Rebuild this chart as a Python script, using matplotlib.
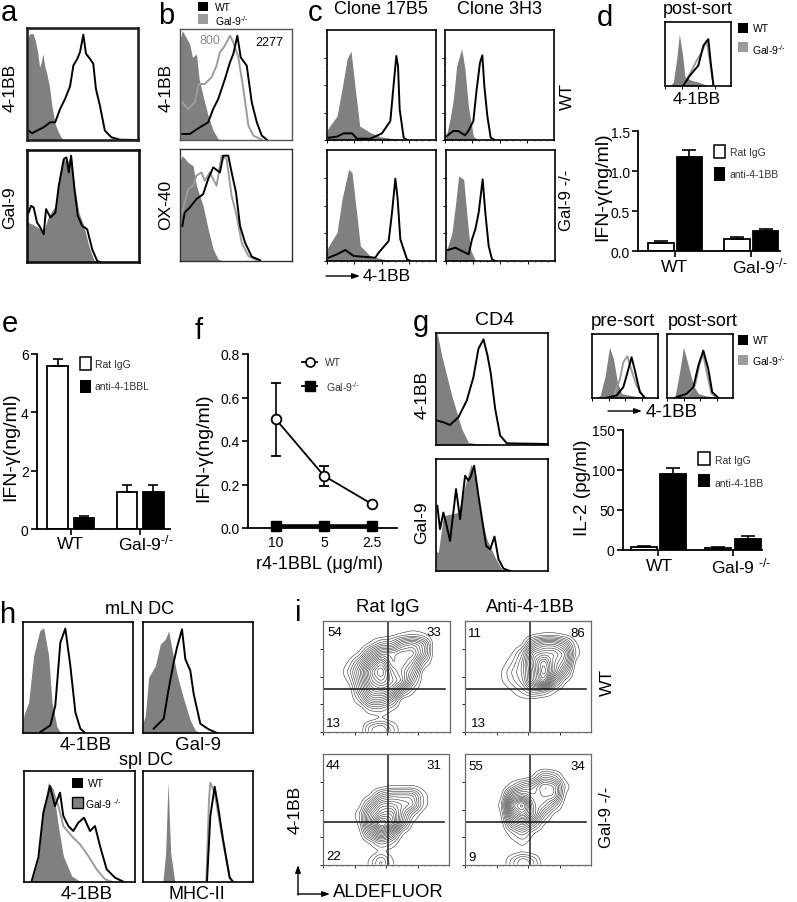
#!/usr/bin/env python3
"""Multi-panel 4-1BB / Gal-9 figure: flow histograms, bar charts, contour plots."""
import numpy as np
import matplotlib
matplotlib.use("Agg")
import matplotlib.pyplot as plt
from matplotlib.patches import Rectangle

W, H = 797, 903
plt.rcParams.update({
    "font.family": ["Liberation Sans", "DejaVu Sans"],
    "mathtext.fontset": "custom",
    "mathtext.rm": "Liberation Sans",
    "mathtext.default": "regular",
})

GREY_FILL = "#808080"
GREY_LINE = "#9c9c9c"
KO = r"Gal-9$^{\text{-/-}}$"
KO_SP = r"Gal-9 $^{\text{-/-}}$"

# ── histogram readings (channel, count), box size in channels per panel ──
A1_ISO_X = [0, 8, 18, 25, 32, 38, 42, 48, 53, 60, 68, 75, 85, 95, 105, 115]
A1_ISO_Y = [300, 318, 318, 298, 263, 218, 228, 258, 223, 198, 158, 103, 48, 23, 5, 0]
A1_WT_X = [5, 15, 30, 50, 70, 85, 100, 115, 130, 140, 147, 152, 160, 170, 178, 190, 200, 208, 220, 235, 255, 280, 335]
A1_WT_Y = [28, 20, 28, 38, 53, 53, 93, 123, 161, 223, 235, 243, 263, 315, 258, 243, 228, 153, 103, 28, 8, 1, 0]
A2_ISO_X = [0, 5, 25, 50, 65, 85, 95, 110, 120, 132, 142, 155, 170, 185, 200, 210]
A2_ISO_Y = [125, 118, 108, 93, 138, 168, 248, 308, 298, 318, 228, 148, 108, 48, 6, 0]
A2_WT_X = [5, 12, 20, 30, 40, 50, 57, 70, 85, 95, 110, 118, 125, 132, 142, 152, 165, 180, 195, 210, 220]
A2_WT_Y = [148, 168, 163, 118, 103, 83, 158, 133, 148, 228, 308, 313, 268, 318, 218, 138, 108, 98, 38, 3, 0]

B1_ISO_X = [0, 7, 29, 37, 49, 57, 71, 84, 99, 114, 120]
B1_ISO_Y = [300, 328, 288, 248, 258, 183, 123, 73, 28, 3, 0]
B1_KO_X = [7, 24, 44, 56, 74, 94, 109, 119, 134, 149, 159, 174, 189, 204, 219, 244]
B1_KO_Y = [113, 93, 113, 168, 168, 188, 223, 263, 283, 313, 293, 248, 153, 43, 13, 1]
B1_WT_X = [7, 29, 59, 84, 99, 114, 134, 149, 159, 171, 181, 199, 214, 229, 244, 259]
B1_WT_Y = [18, 18, 38, 53, 93, 123, 183, 233, 258, 313, 248, 223, 113, 53, 13, 1]
B2_ISO_X = [0, 7, 24, 39, 49, 69, 84, 99, 114, 129]
B2_ISO_Y = [300, 315, 295, 285, 225, 165, 95, 35, 5, 0]
B2_KO_X = [7, 24, 39, 49, 64, 74, 89, 109, 124, 139, 154, 169, 184, 204, 229]
B2_KO_Y = [145, 215, 225, 255, 265, 240, 265, 225, 315, 305, 195, 135, 55, 15, 2]
B2_WT_X = [7, 14, 29, 49, 69, 84, 99, 119, 129, 144, 154, 167, 179, 194, 214, 239]
B2_WT_Y = [105, 145, 160, 185, 200, 245, 280, 265, 315, 315, 265, 205, 105, 55, 13, 2]

C1_ISO_X = [0, 5, 30, 45, 60, 72, 85, 98, 130, 160, 200, 230]
C1_ISO_Y = [30, 37, 72, 152, 242, 267, 152, 42, 22, 10, 4, 0]
C1_WT_X = [5, 30, 50, 75, 90, 130, 165, 190, 200, 208, 213, 218, 230, 240]
C1_WT_Y = [7, 10, 20, 20, 4, 4, 20, 57, 167, 252, 222, 92, 7, 0]
C2_ISO_X = [0, 5, 15, 25, 35, 50, 60, 70, 85, 95]
C2_ISO_Y = [10, 17, 62, 122, 222, 274, 212, 102, 12, 2]
C2_WT_X = [5, 25, 40, 60, 70, 85, 95, 105, 112, 118, 127, 137, 150]
C2_WT_Y = [12, 27, 27, 14, 27, 57, 152, 232, 254, 162, 72, 7, 0]
C3_ISO_X = [0, 5, 30, 45, 65, 75, 90, 100, 130, 170, 200]
C3_ISO_Y = [35, 45, 85, 185, 275, 265, 135, 45, 15, 5, 0]
C3_WT_X = [5, 30, 55, 80, 145, 155, 185, 195, 205, 212, 220, 240, 250]
C3_WT_Y = [10, 20, 33, 15, 10, 25, 60, 145, 247, 185, 65, 5, 0]
C4_ISO_X = [0, 6, 18, 28, 38, 53, 63, 73, 88]
C4_ISO_Y = [30, 45, 85, 165, 255, 245, 135, 35, 2]
C4_WT_X = [6, 28, 48, 68, 78, 88, 98, 110, 118, 128, 138, 148]
C4_WT_Y = [33, 40, 30, 20, 65, 95, 145, 245, 145, 45, 5, 0]

D_ISO_X = [15, 25, 35, 43, 53, 60, 80, 100, 120, 130]
D_ISO_Y = [0, 12, 82, 157, 92, 27, 17, 12, 4, 0]
D_KO_X = [55, 75, 95, 110, 125, 137, 145]
D_KO_Y = [4, 37, 77, 102, 137, 62, 7]
D_WT_X = [55, 75, 100, 115, 122, 130, 137, 145]
D_WT_Y = [2, 32, 62, 122, 132, 142, 72, 4]

G1_ISO_X = [0, 4, 17, 32, 47, 62, 77, 97, 127, 152, 175]
G1_ISO_Y = [335, 333, 268, 208, 148, 98, 48, 8, 3, 2, 0]
G1_WT_X = [4, 22, 42, 67, 92, 112, 127, 142, 154, 164, 177, 192, 212, 335]
G1_WT_Y = [73, 68, 60, 83, 133, 203, 288, 316, 268, 213, 108, 28, 5, 3]
G2_ISO_X = [0, 7, 22, 42, 67, 87, 105, 117, 132, 152, 177, 197, 205]
G2_ISO_Y = [60, 55, 165, 170, 175, 255, 320, 275, 175, 95, 40, 5, 0]
G2_WT_X = [4, 12, 22, 32, 42, 60, 72, 87, 97, 105, 114, 127, 137, 150, 162, 175, 187, 202, 222]
G2_WT_Y = [195, 125, 175, 135, 90, 245, 155, 285, 270, 285, 315, 225, 160, 75, 65, 103, 35, 7, 0]

PRE_ISO_X = [15, 25, 40, 53, 65, 77, 90, 115, 145, 160]
PRE_ISO_Y = [0, 8, 68, 153, 118, 48, 13, 8, 3, 0]
PRE_KO_X = [65, 85, 95, 107, 120, 135, 155]
PRE_KO_Y = [3, 58, 108, 126, 83, 38, 6]
PRE_WT_X = [45, 75, 95, 105, 120, 130, 145, 160]
PRE_WT_Y = [1, 8, 33, 68, 123, 83, 18, 1]
POST_ISO_X = [15, 25, 38, 50, 62, 80, 95, 120, 160, 175]
POST_ISO_Y = [0, 8, 78, 153, 108, 38, 13, 6, 2, 0]
POST_KO_X = [60, 85, 100, 110, 120, 135, 150]
POST_KO_Y = [3, 38, 108, 133, 78, 13, 2]
POST_WT_X = [30, 60, 80, 95, 110, 125, 137, 155]
POST_WT_Y = [3, 13, 33, 98, 143, 88, 18, 1]

H1_ISO_X = [0, 4, 17, 32, 50, 62, 77, 87, 102, 112, 120]
H1_ISO_Y = [40, 58, 93, 233, 308, 318, 233, 93, 18, 3, 0]
H1_WT_X = [52, 82, 97, 112, 127, 142, 157, 172, 187]
H1_WT_Y = [3, 23, 83, 273, 315, 203, 63, 13, 0]
H2_ISO_X = [0, 7, 17, 37, 52, 67, 77, 87, 102, 122, 142, 157, 172]
H2_ISO_Y = [30, 53, 168, 203, 268, 283, 308, 253, 178, 103, 38, 8, 1]
H2_WT_X = [32, 62, 77, 92, 102, 117, 127, 142, 152, 172, 197, 222]
H2_WT_Y = [13, 43, 133, 213, 258, 313, 223, 188, 118, 28, 11, 0]
H3_ISO_X = [23, 43, 58, 73, 88, 103, 118, 143, 168]
H3_ISO_Y = [3, 68, 208, 298, 278, 168, 78, 18, 2]
H3_KO_X = [88, 103, 118, 143, 168, 193, 218, 243, 263]
H3_KO_Y = [270, 228, 168, 138, 113, 78, 38, 8, 1]
H3_WT_X = [23, 43, 58, 78, 93, 108, 118, 133, 148, 163, 180, 198, 213, 228, 248, 273, 298]
H3_WT_Y = [3, 73, 208, 288, 228, 268, 198, 168, 153, 178, 193, 153, 168, 108, 38, 13, 1]
H4_ISO_X = [60, 68, 75, 83, 95]
H4_ISO_Y = [3, 88, 300, 88, 3]
H4_KO_X = [190, 198, 202, 215, 235, 260, 270]
H4_KO_Y = [3, 248, 298, 268, 148, 13, 1]
H4_WT_X = [192, 202, 215, 225, 240, 260, 270]
H4_WT_Y = [1, 198, 286, 228, 128, 13, 1]

# ── bar charts ──
D_RAT = [0.10, 0.15]
D_RAT_ERR = [0.02, 0.02]
D_ANTI = [1.18, 0.25]
D_ANTI_ERR = [0.08, 0.03]
E_RAT = [5.6, 1.28]
E_RAT_ERR = [0.22, 0.24]
E_ANTI = [0.38, 1.27]
E_ANTI_ERR = [0.07, 0.23]
G_RAT = [4, 3]
G_RAT_ERR = [1, 0.5]
G_ANTI = [95, 14]
G_ANTI_ERR = [7, 3]

# ── dose response ──
DOSE_LABELS = ["10", "5", "2.5"]
F_WT = [0.50, 0.24, 0.11]
F_WT_ERR = [0.168, 0.045, 0.0]
F_KO = [0.01, 0.01, 0.01]

# ── contour density read as number of nested lines on a 12x12 grid ──
I1_GRID = [
    [0, 0, 0, 0, 0, 0, 0, 0, 0, 0, 0, 0],
    [0, 0, 0, 0, 0, 0, 0.4, 1, 1.5, 1, 0, 0],
    [0, 0, 0, 0, 1, 3, 3, 6, 7, 5, 0, 0],
    [0, 0, 0, 1, 5, 8, 8, 9, 9, 5, 0, 0],
    [0, 0, 1, 4, 9, 13, 8, 9, 7, 2, 0, 0],
    [0, 0, 2, 6, 12, 15, 10, 8, 5, 0, 0, 0],
    [0, 0, 1, 5, 11, 13, 11, 9, 3, 0, 0, 0],
    [0, 0, 0, 4, 9, 10, 9, 4, 1, 0, 0, 0],
    [0, 0, 0, 2, 6, 6, 4, 0, 0, 0, 0, 0],
    [0, 0, 0, 0, 2, 2, 1, 0, 0, 0, 0, 0],
    [0, 0, 0, 0, 0, 0.6, 0, 0, 0, 0, 0, 0],
    [0, 0, 0, 0, 3, 4, 2, 0, 0, 0, 0, 0],
]
I2_GRID = [
    [0, 0, 0, 0, 0, 0, 0, 0, 0, 0, 0, 0],
    [0, 0, 0, 0, 0, 0, 0.6, 1, 1, 0.6, 0, 0],
    [0, 0, 0, 0, 0, 0.6, 5, 7, 7, 5, 1, 0],
    [0, 0, 0, 0, 0.7, 3, 9, 10, 10, 8, 1.5, 0],
    [0, 0, 0, 0.3, 1.5, 4, 10, 14, 9, 7, 0.3, 0],
    [0, 0, 0, 0.8, 2.5, 4, 9, 15, 9, 4, 0, 0],
    [0, 0, 0, 0.7, 2, 3.5, 9, 13, 5, 1, 0, 0],
    [0, 0, 0, 0.1, 0.8, 2, 4, 3, 1, 0, 0, 0],
    [0, 0, 0, 0, 0.2, 0.5, 0.3, 0, 0, 0, 0, 0],
    [0, 0, 0, 0, 0, 0, 0, 0, 0, 0, 0, 0],
    [0, 0, 0, 0, 0, 0, 0, 0, 0, 0, 0, 0],
    [0, 0, 0, 0, 0, 0, 0, 0, 0, 0, 0, 0],
]
I3_GRID = [
    [0, 0, 0, 0, 0, 0, 0, 0, 0, 0, 0, 0],
    [0, 0, 0, 0, 0, 0, 0, 0, 0, 0, 0, 0],
    [0, 0, 0, 0, 0, 0, 0, 0, 0, 0, 0, 0],
    [0, 0, 0, 0, 0, 0.3, 0.7, 0.7, 0.8, 0.3, 0, 0],
    [0, 0, 0, 0, 0.8, 4, 5, 5, 5, 1.5, 0, 0],
    [0, 0, 0, 0.4, 4, 8, 8, 7, 6, 1.5, 0, 0],
    [0, 0, 0, 1.5, 7, 10, 11, 6, 2, 0.2, 0, 0],
    [0, 0, 0, 1, 8, 15, 12, 5, 0.6, 0, 0, 0],
    [0, 0, 0, 0.3, 5, 9, 6, 1, 0, 0, 0, 0],
    [0, 0, 0, 0, 1, 3, 2, 0, 0, 0, 0, 0],
    [0, 0, 0, 0, 0, 0.7, 0.3, 0, 0, 0, 0, 0],
    [0, 0, 0, 0, 1, 3.5, 1, 0, 0, 0, 0, 0],
]
I4_GRID = [
    [0, 0, 0, 0, 0, 0, 0, 0, 0, 0, 0, 0],
    [0, 0, 0, 0, 0, 0, 0, 0.3, 0, 0, 0, 0],
    [0, 0, 0, 0, 0, 0, 0.8, 4, 3, 0.3, 0, 0],
    [0, 0, 0, 0, 1.5, 4, 5, 8, 7, 1.5, 0, 0],
    [0, 0, 0, 0.4, 7, 8, 6, 7, 7, 0.6, 0, 0],
    [0, 0, 0, 1.2, 12, 15, 7, 6, 3, 0.1, 0, 0],
    [0, 0, 0, 0.6, 9, 12, 8, 3, 0.4, 0, 0, 0],
    [0, 0, 0, 0.1, 5, 7, 4, 0.8, 0, 0, 0, 0],
    [0, 0, 0, 0, 1.5, 3, 0.8, 0, 0, 0, 0, 0],
    [0, 0, 0, 0, 0.5, 1.2, 0.2, 0, 0, 0, 0, 0],
    [0, 0, 0, 0, 0.1, 0.4, 0, 0, 0, 0, 0, 0],
    [0, 0, 0, 0, 2, 4, 2.5, 0, 0, 0, 0, 0],
]

fig = plt.figure(figsize=(W / 100, H / 100), dpi=100, facecolor="white")


def px_axes(left, top, right, bottom, **kw):
    return fig.add_axes([left / W, 1 - bottom / H, (right - left) / W, (bottom - top) / H], **kw)


# overlay in pixel coordinates for labels and hand-placed keys
ov = px_axes(0, 0, W, H, zorder=10, facecolor="none")
ov.set_xlim(0, W)
ov.set_ylim(H, 0)
ov.axis("off")


def txt(x, y, s, size=12.5, ha="center", rot=0, color="black"):
    ov.text(x, y, s, fontsize=size, ha=ha, va="center", rotation=rot, color=color)


def hist_panel(box, size, iso, lines=(), border=1.2, edge="black", ticks=None):
    ax = px_axes(*box)
    ax.set_xlim(0, size[0])
    ax.set_ylim(0, size[1])
    ax.fill_between(iso[0], iso[1], color=GREY_FILL, lw=0)
    for x, y, c in lines:
        ax.plot(x, y, color=c, lw=1.4, solid_joinstyle="round")
    for s in ax.spines.values():
        s.set_linewidth(border)
        s.set_edgecolor(edge)
    ax.set_xticks([])
    ax.set_yticks([])
    if ticks == "xy":
        ax.set_xticks(np.linspace(0, size[0], 5)[:-1])
        ax.set_yticks(np.linspace(0, size[1], 5)[:-1])
        ax.set_xticks(np.linspace(0, size[0], 17), minor=True)
        ax.set_yticks(np.linspace(0, size[1], 17), minor=True)
    elif ticks == "x":
        ax.set_xticks(np.linspace(0, size[0], 5)[:-1])
    ax.tick_params(which="major", length=2, width=0.7, labelbottom=False, labelleft=False)
    ax.tick_params(which="minor", length=1, width=0.5)
    return ax


def style_axis(ax, xlim, ymax, yticks):
    ax.set_xlim(*xlim)
    ax.set_ylim(0, ymax)
    ax.set_yticks(yticks)
    for side in ("top", "right"):
        ax.spines[side].set_visible(False)
    for side in ("left", "bottom"):
        ax.spines[side].set_linewidth(1.3)
    ax.tick_params(length=4, width=1.2, labelsize=10, pad=2, labelbottom=False)


def bar_panel(box, rat, rat_err, anti, anti_err, xlim, ymax, yticks, offset, width, cap):
    ax = px_axes(*box, facecolor="none")
    x = np.arange(len(rat))
    for pos, vals, errs, col in ((x - offset, rat, rat_err, "white"), (x + offset, anti, anti_err, "black")):
        ax.bar(pos, vals, width, color=col, edgecolor="black", lw=1.3)
        ax.errorbar(pos, vals, yerr=[np.zeros(len(errs)), errs], fmt="none", ecolor="black",
                    elinewidth=1.2, capsize=cap, capthick=1.2)
    style_axis(ax, xlim, ymax, yticks)
    ax.set_xticks(x)
    return ax


def resample(grid, n=96):
    """Bilinear refinement of a coarse grid, then a small box blur."""
    grid = np.array(grid, float)
    coarse = (np.arange(grid.shape[0]) + 0.5) / grid.shape[0]
    fine = (np.arange(n) + 0.5) / n
    g = np.apply_along_axis(lambda r: np.interp(fine, coarse, r), 0, grid)
    g = np.apply_along_axis(lambda r: np.interp(fine, coarse, r), 1, g)
    kernel = np.ones(5) / 5
    for axis in (0, 1):
        g = np.apply_along_axis(lambda r: np.convolve(np.pad(r, 2, mode="edge"), kernel, mode="valid"), axis, g)
    return fine, g


def contour_panel(box, grid, vline, hline):
    ax = px_axes(*box)
    fine, g = resample(grid)
    ax.contour(fine, 1 - fine, g, levels=np.arange(0.8, 14, 0.75), colors="#333333", linewidths=0.4)
    ax.set_xlim(0, 1)
    ax.set_ylim(0, 1)
    ax.axvline(vline, color="#222222", lw=1.1)
    ax.plot([0, 0.96], [hline, hline], color="#111111", lw=1.1)
    for s in ax.spines.values():
        s.set_linewidth(0.9)
        s.set_edgecolor("#6a6a6a")
    ax.set_xticks(np.linspace(0, 1, 5)[:-1])
    ax.set_yticks(np.linspace(0, 1, 5)[:-1])
    ax.set_xticks(np.linspace(0, 1, 21), minor=True)
    ax.tick_params(which="major", length=2, width=0.6, labelbottom=False, labelleft=False)
    ax.tick_params(which="minor", length=1, width=0.4)


def key_square(left, top, right, bottom, col, edge=None, lw=0):
    ov.add_patch(Rectangle((left, top), right - left, bottom - top, facecolor=col,
                           edgecolor=edge if edge else col, lw=lw))


def arrow(x0, y0, x1, y1):
    ov.annotate("", xy=(x1, y1), xytext=(x0, y0),
                arrowprops=dict(arrowstyle="-|>,head_length=0.45,head_width=0.16", color="black",
                                lw=1.0, shrinkA=0, shrinkB=0))


BK, GL = "black", GREY_LINE

# ── a ──
hist_panel((27, 29, 138, 141), (335, 335), (A1_ISO_X, A1_ISO_Y), [(A1_WT_X, A1_WT_Y, BK)], border=1.9, edge="#222222")
hist_panel((27, 151, 139, 263), (335, 335), (A2_ISO_X, A2_ISO_Y), [(A2_WT_X, A2_WT_Y, BK)], border=1.9, edge="#111111")
# ── b ──
hist_panel((180, 30, 292, 141), (334, 333), (B1_ISO_X, B1_ISO_Y),
           [(B1_KO_X, B1_KO_Y, GL), (B1_WT_X, B1_WT_Y, BK)], border=1.0, edge="#555555")
hist_panel((180, 150, 292, 262), (334, 335), (B2_ISO_X, B2_ISO_Y),
           [(B2_KO_X, B2_KO_Y, GL), (B2_WT_X, B2_WT_Y, BK)], border=1.0, edge="#333333")
# ── c ──
hist_panel((327, 31, 436, 141), (327, 330), (C1_ISO_X, C1_ISO_Y), [(C1_WT_X, C1_WT_Y, BK)], ticks="xy")
hist_panel((445, 31, 554, 141), (327, 330), (C2_ISO_X, C2_ISO_Y), [(C2_WT_X, C2_WT_Y, BK)], ticks="xy")
hist_panel((327, 151, 436, 262), (327, 333), (C3_ISO_X, C3_ISO_Y), [(C3_WT_X, C3_WT_Y, BK)], ticks="xy")
hist_panel((446, 151, 555, 262), (327, 333), (C4_ISO_X, C4_ISO_Y), [(C4_WT_X, C4_WT_Y, BK)], ticks="xy")
# ── d ──
hist_panel((665, 23, 731, 87), (198, 194), (D_ISO_X, D_ISO_Y),
           [(D_KO_X, D_KO_Y, GL), (D_WT_X, D_WT_Y, BK)], ticks="x")
bar_panel((638, 132, 780, 252), D_RAT, D_RAT_ERR, D_ANTI, D_ANTI_ERR, (-0.487, 1.38), 1.5,
          [0, 0.5, 1.0, 1.5], 0.19, 0.34, 5).set_yticklabels(["0.0", "0.5", "1.0", "1.5"])
# ── e ──
bar_panel((37, 355, 170, 530), E_RAT, E_RAT_ERR, E_ANTI, E_ANTI_ERR, (-0.49, 1.43), 6,
          [0, 2, 4, 6], 0.19, 0.30, 3.6)
# ── f ──
ax_f = px_axes(248, 355, 397, 529, facecolor="none")
dose_x = np.arange(len(F_WT))
ax_f.plot(dose_x, F_KO, "-s", color="black", lw=2.6, ms=7, clip_on=False, zorder=3)
ax_f.errorbar(dose_x, F_WT, yerr=F_WT_ERR, fmt="-o", color="black", mfc="white", mec="black", mew=1.3,
              ms=7, lw=1.3, capsize=3.6, capthick=1.2, elinewidth=1.2, zorder=4)
style_axis(ax_f, (-0.58, 2.52), 0.8, [0, 0.2, 0.4, 0.6, 0.8])
ax_f.set_yticklabels(["0.0", "0.2", "0.4", "0.6", "0.8"])
ax_f.set_xticks([])
# ── g ──
hist_panel((436, 334, 548, 446), (335, 335), (G1_ISO_X, G1_ISO_Y), [(G1_WT_X, G1_WT_Y, BK)])
hist_panel((436, 460, 548, 572), (335, 335), (G2_ISO_X, G2_ISO_Y), [(G2_WT_X, G2_WT_Y, BK)])
hist_panel((592, 335, 658, 399), (200, 193), (PRE_ISO_X, PRE_ISO_Y),
           [(PRE_KO_X, PRE_KO_Y, GL), (PRE_WT_X, PRE_WT_Y, BK)], ticks="x")
hist_panel((667, 335, 733, 399), (200, 193), (POST_ISO_X, POST_ISO_Y),
           [(POST_KO_X, POST_KO_Y, GL), (POST_WT_X, POST_WT_Y, BK)], ticks="x")
bar_panel((623, 431, 762, 551), G_RAT, G_RAT_ERR, G_ANTI, G_ANTI_ERR, (-0.476, 1.39), 150,
          [0, 50, 100, 150], 0.2, 0.35, 5)
# ── h ──
hist_panel((23, 623, 133, 734), (330, 335), (H1_ISO_X, H1_ISO_Y), [(H1_WT_X, H1_WT_Y, BK)])
hist_panel((143, 623, 253, 734), (330, 335), (H2_ISO_X, H2_ISO_Y), [(H2_WT_X, H2_WT_Y, BK)])
hist_panel((24, 772, 135, 883), (333, 333), (H3_ISO_X, H3_ISO_Y),
           [(H3_KO_X, H3_KO_Y, GL), (H3_WT_X, H3_WT_Y, BK)])
hist_panel((143, 772, 253, 883), (330, 333), (H4_ISO_X, H4_ISO_Y),
           [(H4_KO_X, H4_KO_Y, GL), (H4_WT_X, H4_WT_Y, BK)])
# ── i ──
contour_panel((323, 622, 450, 733), I1_GRID, 0.515, 0.39)
contour_panel((465, 622, 591, 733), I2_GRID, 0.515, 0.39)
contour_panel((323, 755, 449, 866), I3_GRID, 0.515, 0.39)
contour_panel((465, 755, 591, 866), I4_GRID, 0.515, 0.39)

# ── panel letters (x, baseline y) ──
for x, y, s in [(1, 21, "a"), (158, 24, "b"), (308, 21, "c"), (597, 26, "d"), (2, 332, "e"),
                (195, 339, "f"), (413, 331, "g"), (0, 623, "h"), (295, 621, "i")]:
    ov.text(x, y, s, fontsize=21, ha="left", va="baseline")

# ── labels: a, b ──
txt(10, 88, "4-1BB", rot=90)
txt(10, 208, "Gal-9", rot=90)
txt(166, 88, "4-1BB", rot=90)
txt(166, 205, "OX-40", rot=90)
key_square(198, 3, 208, 12, "black")
key_square(198, 15, 208, 25, GREY_LINE)
txt(215, 8, "WT", size=7.5, ha="left")
txt(215, 21, KO, size=7.5, ha="left")
txt(210, 41, "800", size=9, color="#8a8a8a")
txt(269, 43, "2277", size=9)

# ── labels: c ──
txt(381, 9, "Clone 17B5", size=13)
txt(500, 9, "Clone 3H3", size=13)
txt(567, 97, "WT", rot=90)
txt(567, 200, "Gal-9 -/-", size=12, rot=90)
arrow(326, 277, 360, 277)
txt(363, 277, "4-1BB", ha="left")

# ── labels: d ──
txt(698, 9, "post-sort", size=13)
txt(697, 99, "4-1BB")
key_square(738, 24, 748, 34, "black")
key_square(738, 43, 748, 53, GREY_LINE)
txt(753, 29, "WT", size=7.5, ha="left")
txt(752, 50, KO, size=7.5, ha="left")
txt(603, 187, "IFN-γ(ng/ml)", size=14, rot=90)
txt(674, 268, "WT")
txt(760, 266, KO)
key_square(714, 146, 725, 159, "white", "black", 1.1)
key_square(714, 168, 725, 182, "black")
txt(730, 153, "Rat IgG", size=7.5, ha="left", color="#333333")
txt(730, 175, "anti-4-1BB", size=7.5, ha="left", color="#333333")

# ── labels: e ──
txt(11, 447, "IFN-γ(ng/ml)", size=14, rot=90)
txt(70, 545, "WT")
txt(146, 543, KO)
key_square(80, 358, 91, 371, "white", "black", 1.1)
key_square(80, 381, 91, 394, "black")
txt(95, 365, "Rat IgG", size=7.5, ha="left", color="#333333")
txt(95, 387, "anti-4-1BBL", size=7.5, ha="left", color="#333333")

# ── labels: f ──
txt(204, 448, "IFN-γ(ng/ml)", size=14, rot=90)
for x, s in zip((276, 324, 372), DOSE_LABELS):
    txt(x, 543, s, size=10)
txt(320, 565, "r4-1BBL (μg/ml)", size=13)
ov.plot([302, 317], [363, 363], color="black", lw=1.3)
ov.plot([310], [363], "o", mfc="white", mec="black", mew=1.2, ms=6.5)
txt(325, 363, "WT", size=7.5, ha="left", color="#333333")
ov.plot([302, 317], [387, 387], color="black", lw=1.3)
ov.plot([310], [387], "s", color="black", ms=6.5)
txt(326, 387, KO, size=7.5, ha="left", color="#333333")

# ── labels: g ──
txt(495, 321, "CD4", size=14)
txt(422, 395, "4-1BB", rot=90)
txt(422, 523, "Gal-9", rot=90)
txt(623, 322, "pre-sort", size=13.5)
txt(703, 322, "post-sort", size=13)
key_square(738, 336, 748, 346, "black")
key_square(738, 356, 748, 366, GREY_LINE)
txt(753, 341, "WT", size=7.5, ha="left")
txt(752, 361, KO, size=7.5, ha="left")
arrow(608, 412, 642, 412)
txt(646, 413, "4-1BB", size=13.5, ha="left")
txt(583, 488, "IL-2 (pg/ml)", size=13.6, rot=90)
txt(659, 567, "WT")
txt(741, 566, KO_SP)
key_square(698, 453, 710, 466, "white", "black", 1.1)
key_square(698, 475, 710, 488, "black")
txt(715, 461, "Rat IgG", size=7.5, ha="left", color="#333333")
txt(715, 484, "anti-4-1BB", size=7.5, ha="left", color="#333333")

# ── labels: h ──
txt(140, 610, "mLN DC", size=13)
txt(86, 746, "4-1BB", size=13.5)
txt(198, 746, "Gal-9", size=13.5)
txt(146, 761, "spl DC", size=13)
txt(87, 895, "4-1BB", size=13.5)
txt(197, 895, "MHC-II", size=13)
key_square(72, 779, 83, 789, "black")
key_square(72, 798, 83, 809, GREY_FILL, "black", 1.0)
txt(88, 784, "WT", size=7.5, ha="left")
txt(85, 804, KO_SP, size=7.5, ha="left")

# ── labels: i ──
txt(388, 608, "Rat IgG", size=13.3)
txt(530, 608, "Anti-4-1BB", size=13.2)
txt(607, 683, "WT", rot=90)
txt(607, 817, "Gal-9 -/-", size=12, rot=90)
txt(295, 810, "4-1BB", rot=90)
arrow(298, 896, 298, 866)
arrow(298, 895, 330, 895)
txt(333, 893, "ALDEFLUOR", size=13.3, ha="left")
for x, y, s in [(335, 633, "54"), (434, 633, "33"), (333, 724, "13"),
                (475, 634, "11"), (578, 634, "86"), (478, 724, "13"),
                (333, 766, "44"), (434, 766, "31"), (334, 857, "22"),
                (476, 767, "55"), (578, 767, "34"), (472, 858, "9")]:
    txt(x, y, s, size=9.5)

fig.savefig("out.png", dpi=100)
